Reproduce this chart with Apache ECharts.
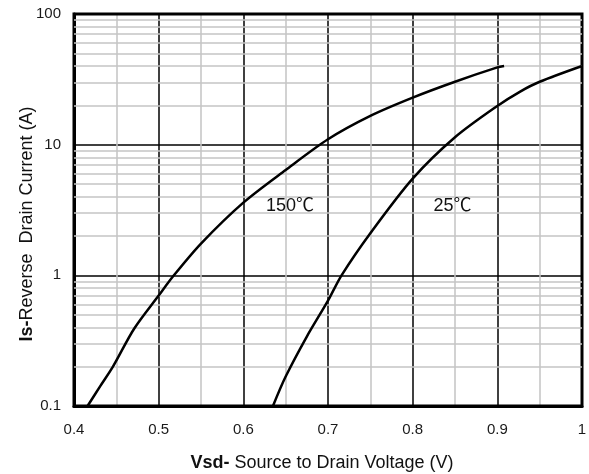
<!DOCTYPE html>
<html>
<head>
<meta charset="utf-8">
<script src="https://cdn.jsdelivr.net/npm/echarts@6/dist/echarts.min.js"></script>
<style>
html,body{margin:0;padding:0;background:#fff;}
#chart{width:589px;height:474px;}
</style>
</head>
<body>
<div id="chart"></div>
<script>
// Data (Vsd in V, Is in A)
var curve150 = [[0.416,0.1],[0.431,0.142],[0.446,0.2],[0.471,0.39],[0.5,0.7],[0.518,1.0],[0.55,1.75],[0.6,3.6],[0.65,6.4],[0.7,11],[0.75,16.6],[0.8,22.9],[0.85,30.3],[0.9,39],[0.908,40]];
var curve25 = [[0.635,0.1],[0.65,0.168],[0.675,0.34],[0.7,0.64],[0.716,1.0],[0.75,2.1],[0.8,5.5],[0.85,11.4],[0.9,19.8],[0.927,25.5],[0.95,30.3],[1.0,40]];
var seriesNames = ['150℃','25℃'];
var labelAt150 = [0.655, 3.4];
var labelAt25 = [0.847, 3.4];
var xTicks = [0.4,0.5,0.6,0.7,0.8,0.9,1.0];
var yTicks = [0.1,1,10,100];
var yMinor = [0.2,0.3,0.4,0.5,0.6,0.7,0.8,0.9,2,3,4,5,6,7,8,9,20,30,40,50,60,70,80,90];

var FONT = 'Liberation Sans, Arial, Noto Sans CJK SC, sans-serif';
var chart = echarts.init(document.getElementById('chart'));

function tempLabel(text, coord){
  return {
    symbol:'circle', symbolSize:1, silent:true,
    itemStyle:{color:'rgba(0,0,0,0)'},
    label:{show:true, position:'inside', formatter:text, color:'#111', fontSize:18, fontFamily:FONT},
    data:[{coord:coord}]
  };
}

var option = {
  animation:false,
  backgroundColor:'#fff',
  grid:{left:74, right:7, top:14, bottom:68, show:true, borderColor:'#000', borderWidth:3,
    backgroundColor:'transparent', z:3, containLabel:false, outerBoundsMode:'none'},
  xAxis:{
    type:'value', min:0.4, max:1.0, interval:0.1, z:2,
    name:'{b|Vsd-} Source to Drain Voltage (V)',
    nameLocation:'middle', nameGap:48, nameMoveOverlap:false,
    nameTextStyle:{fontSize:18, fontFamily:FONT, color:'#111', padding:[0,12,0,0],
      rich:{b:{fontWeight:'bold', fontSize:18, fontFamily:FONT, color:'#111'}}},
    axisLine:{show:true, lineStyle:{color:'#000', width:3}},
    axisTick:{show:false},
    axisLabel:{fontSize:15, fontFamily:FONT, color:'#1a1a1a', margin:16,
      formatter:function(v){ return String(Math.round(v*10)/10); }},
    splitLine:{show:true, lineStyle:{color:'#000', width:1.5}},
    minorTick:{show:false, splitNumber:2},
    minorSplitLine:{show:true, lineStyle:{color:'#c4c4c4', width:1.5}}
  },
  yAxis:{
    type:'log', logBase:10, min:0.1, max:100, z:2,
    name:'{b|Is-}Reverse  Drain Current (A)',
    nameLocation:'middle', nameGap:38, nameMoveOverlap:false,
    nameTextStyle:{fontSize:18, fontFamily:FONT, color:'#111', padding:[0,28,0,0],
      rich:{b:{fontWeight:'bold', fontSize:18, fontFamily:FONT, color:'#111'}}},
    axisLine:{show:true, lineStyle:{color:'#000', width:3}},
    axisTick:{show:false},
    axisLabel:{fontSize:15, fontFamily:FONT, color:'#1a1a1a', margin:13,
      formatter:function(v){ return String(v); }},
    splitLine:{show:true, lineStyle:{color:'#000', width:1.5}}
  },
  series:[
    {
      type:'line', data:[], z:1, silent:true,
      markLine:{silent:true, symbol:'none', label:{show:false},
        lineStyle:{color:'#c4c4c4', width:1.5, type:'solid'},
        data:yMinor.map(function(v){ return {yAxis:v}; })}
    },
    {
      name:seriesNames[0], type:'line', data:curve150, smooth:0.3, showSymbol:false, z:5,
      lineStyle:{color:'#000', width:2.5},
      markPoint:tempLabel(seriesNames[0], labelAt150)
    },
    {
      name:seriesNames[1], type:'line', data:curve25, smooth:0.3, showSymbol:false, z:5,
      lineStyle:{color:'#000', width:2.5},
      markPoint:tempLabel(seriesNames[1], labelAt25)
    }
  ]
};
chart.setOption(option);
</script>
</body>
</html>
